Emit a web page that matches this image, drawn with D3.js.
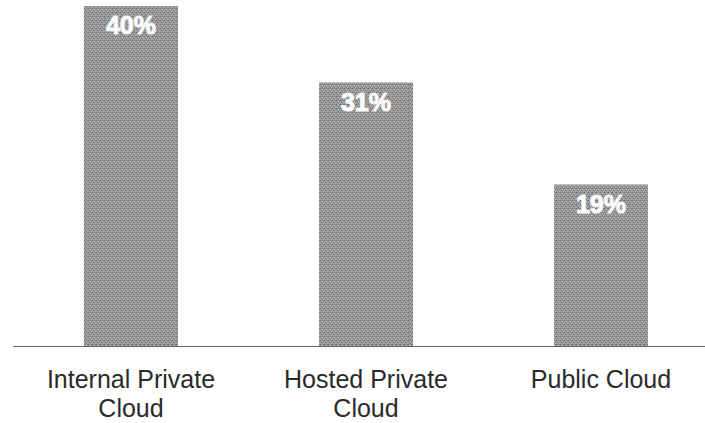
<!DOCTYPE html>
<html>
<head>
<meta charset="utf-8">
<script src="https://cdn.jsdelivr.net/npm/d3@7"></script>
<style>
  html, body { margin: 0; padding: 0; background: #fff; }
  svg { display: block; }
</style>
</head>
<body>
<div id="chart"></div>
<script>
'use strict';

// Data
var categories = ['Internal Private Cloud', 'Hosted Private Cloud', 'Public Cloud']
var labelLines = [['Internal Private', 'Cloud'], ['Hosted Private', 'Cloud'], ['Public Cloud']]
var values = [40, 31, 19]

var width = 705, height = 423
var baseY = 346

var svg = d3.select('#chart').append('svg')
  .attr('width', width)
  .attr('height', height)

// dithered grey fill, like the scanned original
var defs = svg.append('defs')
var pat = defs.append('pattern')
  .attr('id', 'dither')
  .attr('patternUnits', 'userSpaceOnUse')
  .attr('width', 4)
  .attr('height', 4)
pat.append('rect').attr('width', 4).attr('height', 4).attr('fill', '#969696')
var dots = [[0,0,'#6a6a6a'],[2,1,'#c4c4c4'],[1,2,'#747474'],[3,3,'#bdbdbd'],[3,0,'#808080'],[1,3,'#b0b0b0'],[0,2,'#a8a8a8'],[2,3,'#727272']]
dots.forEach(function(d){
  pat.append('rect').attr('x', d[0]).attr('y', d[1]).attr('width', 1).attr('height', 1).attr('fill', d[2])
})

var x = d3.scaleBand()
  .domain(categories)
  .range([13.5, 718.5])
  .paddingInner(0.6)
  .paddingOuter(0.3)

var y = d3.scaleLinear()
  .domain([0, 40])
  .range([baseY, 6])

var g = svg.append('g')

g.selectAll('.bar')
  .data(values)
  .enter().append('rect')
    .attr('class', 'bar')
    .attr('x', function(d, i){ return x(categories[i]) })
    .attr('y', function(d){ return y(d) })
    .attr('width', x.bandwidth())
    .attr('height', function(d){ return y(0) - y(d) })
    .attr('fill', 'url(#dither)')

// value labels (white, heavy)
g.selectAll('.val')
  .data(values)
  .enter().append('text')
    .attr('class', 'val')
    .attr('x', function(d, i){ return x(categories[i]) + x.bandwidth() / 2 })
    .attr('y', function(d){ return y(d) + 28 })
    .attr('text-anchor', 'middle')
    .attr('font-family', "'Liberation Sans', Arial, sans-serif")
    .attr('font-weight', 700)
    .attr('font-size', 25)
    .attr('fill', '#fff')
    .attr('stroke', '#f4f4f4')
    .attr('stroke-width', 1.1)
    .text(function(d){ return d + '%' })

// baseline
g.append('line')
  .attr('x1', 13)
  .attr('x2', width)
  .attr('y1', baseY + 0.5)
  .attr('y2', baseY + 0.5)
  .attr('stroke', '#666')
  .attr('stroke-width', 1.2)

// category labels
var cat = g.selectAll('.cat')
  .data(categories)
  .enter().append('text')
    .attr('class', 'cat')
    .attr('x', function(d){ return x(d) + x.bandwidth() / 2 })
    .attr('y', 388)
    .attr('text-anchor', 'middle')
    .attr('font-family', "'Liberation Sans', Arial, sans-serif")
    .attr('font-size', 25)
    .attr('fill', '#2a2a2a')

cat.each(function(d, i){
  var t = d3.select(this)
  labelLines[i].forEach(function(line, j){
    t.append('tspan')
      .attr('x', x(d) + x.bandwidth() / 2)
      .attr('dy', j === 0 ? 0 : 29)
      .text(line)
  })
})
</script>
</body>
</html>
